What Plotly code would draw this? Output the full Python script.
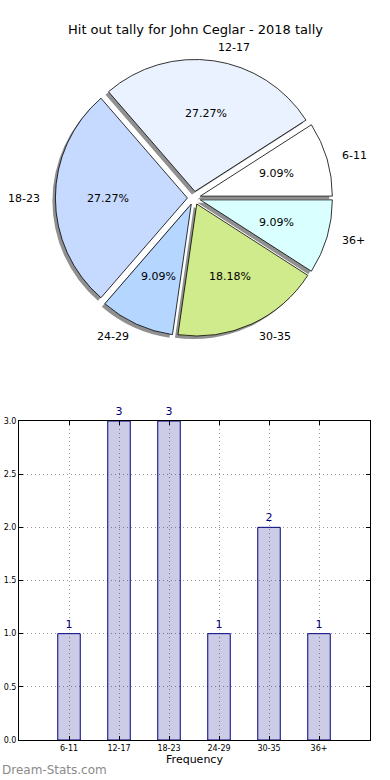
import math
import plotly.graph_objects as go

categories = ["6-11", "12-17", "18-23", "24-29", "30-35", "36+"]
counts = [1, 3, 3, 1, 2, 1]
pie_colors = ["#FFFFFF", "#EBF2FF", "#C6D9FF", "#B4D6FF", "#D0EB8B", "#DAFFFF"]
title_text = "Hit out tally for John Ceglar - 2018 tally"
y_ticks = [0.0, 0.5, 1.0, 1.5, 2.0, 2.5, 3.0]

W, H = 390, 780
FONT = "DejaVu Sans"

# pie geometry (pixels)
cx_px, cy_px = 194, 198
r_px = 132
pull = 0.05
R = r_px * (1 + pull)
total = sum(counts)
first_deg = counts[0] / total * 360


def dom(cx, cy, sx=0, sy=0):
    return dict(
        x=[(cx + sx - R) / W, (cx + sx + R) / W],
        y=[1 - (cy + sy + R) / H, 1 - (cy + sy - R) / H],
    )


fig = go.Figure()

rot = 90 - first_deg

# shadow
fig.add_trace(go.Pie(
    labels=categories, values=counts, sort=False, direction="counterclockwise",
    rotation=rot, pull=[pull] * len(counts),
    marker=dict(colors=["rgba(70,70,70,0.6)"] * len(counts), line=dict(width=0)),
    textinfo="none", hoverinfo="skip", showlegend=False,
    domain=dom(cx_px, cy_px, -3, 3),
))
# main pie
fig.add_trace(go.Pie(
    labels=categories, values=counts, sort=False, direction="counterclockwise",
    rotation=rot, pull=[pull] * len(counts),
    marker=dict(colors=pie_colors, line=dict(color="black", width=0.8)),
    textinfo="none", showlegend=False,
    domain=dom(cx_px, cy_px),
))

annotations = []
cum = 0
for cat, v in zip(categories, counts):
    mid = (cum + v / 2) / total * 2 * math.pi
    cum += v
    c, s = math.cos(mid), math.sin(mid)
    d_lab = (1.1 + pull) * r_px
    annotations.append(dict(
        x=(cx_px + d_lab * c) / W, y=1 - (cy_px - d_lab * s) / H,
        xref="paper", yref="paper", text=cat, showarrow=False,
        xanchor="left" if c > 0 else "right", yanchor="middle",
        font=dict(family=FONT, size=11, color="black"),
    ))
    d_pct = (0.6 + pull) * r_px
    annotations.append(dict(
        x=(cx_px + d_pct * c) / W, y=1 - (cy_px - d_pct * s) / H,
        xref="paper", yref="paper", text=f"{v / total * 100:.2f}%", showarrow=False,
        xanchor="center", yanchor="middle",
        font=dict(family=FONT, size=11, color="black"),
    ))

annotations.append(dict(
    x=0.5, y=1 - 30 / H, xref="paper", yref="paper", text=title_text,
    showarrow=False, xanchor="center", yanchor="middle",
    font=dict(family=FONT, size=13, color="black"),
))
annotations.append(dict(
    x=0, y=1 - 770 / H, xref="paper", yref="paper", text="Dream-Stats.com",
    showarrow=False, xanchor="left", yanchor="middle",
    font=dict(family=FONT, size=12, color="#8a8a8a"),
))

# bar chart
fig.add_trace(go.Bar(
    x=categories, y=counts, width=0.45,
    marker=dict(color="rgba(0,0,128,0.2)", line=dict(color="#000080", width=1)),
    text=[str(v) for v in counts], textposition="outside", cliponaxis=False,
    textfont=dict(family=FONT, size=11, color="#000080"),
    showlegend=False, xaxis="x", yaxis="y",
))

fig.update_layout(
    width=W, height=H, margin=dict(l=0, r=0, t=0, b=0, autoexpand=False),
    paper_bgcolor="white", plot_bgcolor="white",
    font=dict(family=FONT, color="black"),
    annotations=annotations,
    xaxis=dict(
        domain=[19 / W, 370 / W], range=[-1, 6.02], type="category",
        automargin=False,
        showline=True, linecolor="black", linewidth=1, mirror="ticks",
        ticks="inside", ticklen=4, tickcolor="black",
        showgrid=True, gridcolor="#999999", griddash="1px,3px", gridwidth=1,
        tickfont=dict(family=FONT, size=8, color="black"),
        title=dict(text="Frequency", font=dict(family=FONT, size=11, color="black"), standoff=2),
        fixedrange=True,
    ),
    yaxis=dict(
        domain=[1 - 740 / H, 1 - 421 / H], range=[0, 3],
        automargin=False,
        tickvals=y_ticks, ticktext=[f"{t:.1f}" for t in y_ticks],
        showline=True, linecolor="black", linewidth=1, mirror="ticks",
        ticks="inside", ticklen=4, tickcolor="black",
        showgrid=True, gridcolor="#999999", griddash="1px,3px", gridwidth=1,
        zeroline=False,
        tickfont=dict(family=FONT, size=8, color="black"),
        fixedrange=True,
    ),
)

fig.write_html(
    "out.html",
    config={"displayModeBar": False},
    post_script="document.body.style.margin='0';document.body.style.padding='0';",
)
